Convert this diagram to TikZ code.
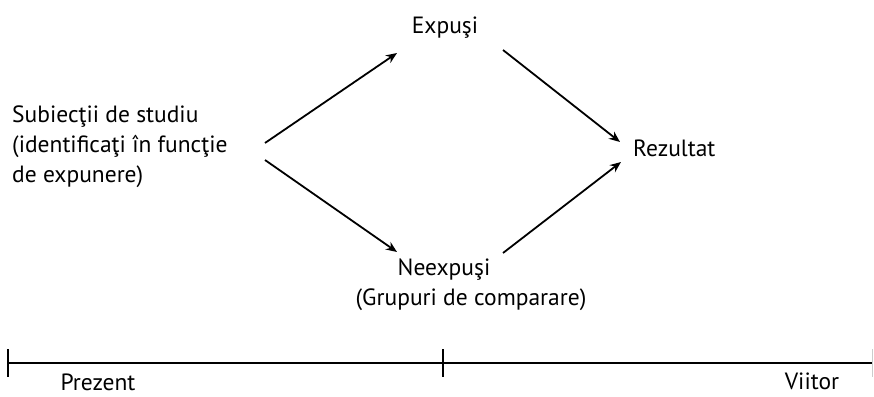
\documentclass[tikz,border=0pt]{standalone}
\usepackage{fontspec}
\setmainfont{PT Sans}
\usepackage{tikz}
\usetikzlibrary{arrows.meta}

\begin{document}
\begin{tikzpicture}[x=1pt,y=-1pt,
  sageata/.style={-{Stealth[length=11pt,width=9pt]},line width=1.8pt},
  eticheta/.style={inner sep=0pt,font=\fontsize{23.5}{30}\selectfont}]
\useasboundingbox (0,0) rectangle (874,396);

\node[eticheta,anchor=west,align=left] (subiecti) at (12,147) {Subiecţii de studiu\\(identificaţi în funcţie\\de expunere)};
\node[eticheta] (expusi) at (445,28) {Expuşi};
\node[eticheta,anchor=west] (rezultat) at (633,148) {Rezultat};
\node[eticheta] (neexpusi) at (444,270) {Neexpuşi};
\node[eticheta] (grupuri) at (471,300) {(Grupuri de comparare)};

\coordinate (s1) at (265,143);
\coordinate (e1) at (397,53);
\coordinate (s2) at (265,160);
\coordinate (n1) at (397,252);
\coordinate (e2) at (503,50);
\coordinate (r1) at (620,142);
\coordinate (n2) at (503,253);
\coordinate (r2) at (621,162);

\draw[sageata] (s1)--(e1);
\draw[sageata] (s2)--(n1);
\draw[sageata] (e2)--(r1);
\draw[sageata] (n2)--(r2);

% axa timpului
\coordinate (t0) at (8,363);
\coordinate (t1) at (443,363);
\coordinate (t2) at (872,363);
\draw[line width=1.4pt] (t0)--(t2);
\draw[line width=1.4pt] (t0) ++(0,-14)--++(0,28);
\draw[line width=1.4pt] (t1) ++(0,-14)--++(0,28);
\draw[line width=0.6pt,gray!40] (t2) ++(0,-14)--++(0,28);

\node[eticheta] (prezent) at (98,382) {Prezent};
\node[eticheta] (viitor) at (812,381) {Viitor};
\end{tikzpicture}
\end{document}
